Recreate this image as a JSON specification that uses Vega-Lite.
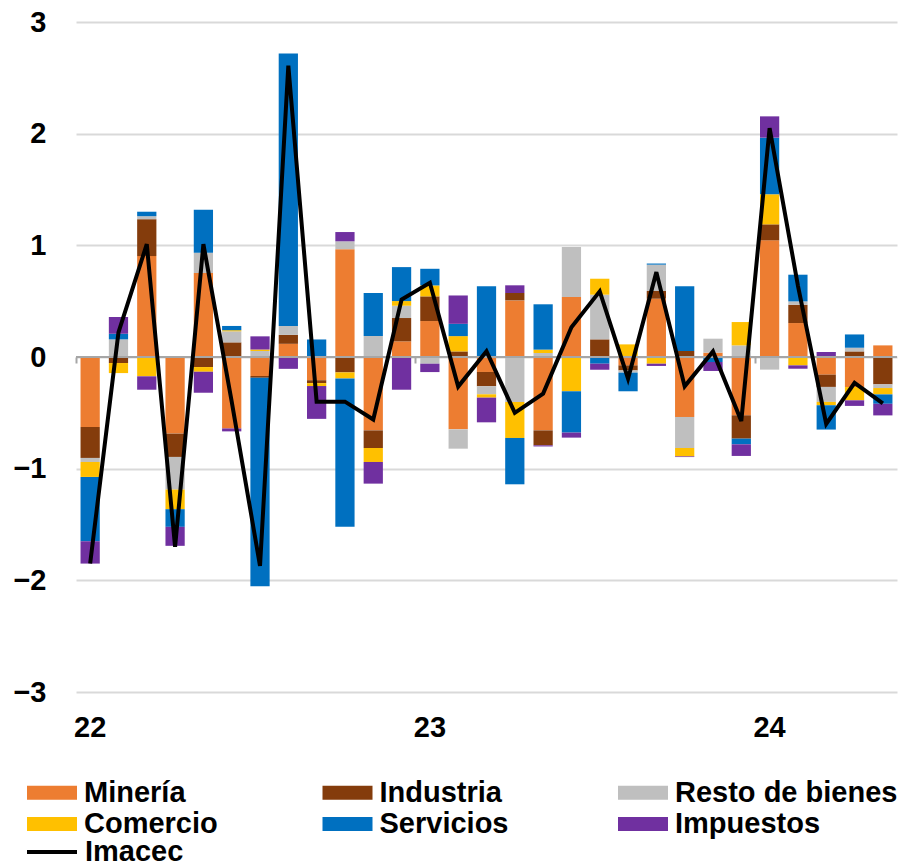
{
  "$schema": "https://vega.github.io/schema/vega-lite/v6.json",
  "width": 821,
  "height": 670,
  "autosize": {"type": "none"},
  "padding": {"left": 76, "top": 22, "right": 10, "bottom": 171},
  "background": "white",
  "config": {"view": {"stroke": null}, "font": "Liberation Sans"},
  "resolve": {"scale": {"x": "shared"}, "axis": {"x": "independent"}},
  "datasets": {
    "bars": [
      {"mes": "2022-01", "serie": "Minería", "v": -0.627},
      {"mes": "2022-01", "serie": "Industria", "v": -0.277},
      {"mes": "2022-01", "serie": "Resto de bienes", "v": -0.036},
      {"mes": "2022-01", "serie": "Comercio", "v": -0.134},
      {"mes": "2022-01", "serie": "Servicios", "v": -0.576},
      {"mes": "2022-01", "serie": "Impuestos", "v": -0.2},
      {"mes": "2022-02", "serie": "Industria", "v": -0.054},
      {"mes": "2022-02", "serie": "Resto de bienes", "v": 0.158},
      {"mes": "2022-02", "serie": "Comercio", "v": -0.09},
      {"mes": "2022-02", "serie": "Servicios", "v": 0.05},
      {"mes": "2022-02", "serie": "Impuestos", "v": 0.15},
      {"mes": "2022-03", "serie": "Minería", "v": 0.904},
      {"mes": "2022-03", "serie": "Industria", "v": 0.33},
      {"mes": "2022-03", "serie": "Resto de bienes", "v": 0.027},
      {"mes": "2022-03", "serie": "Comercio", "v": -0.173},
      {"mes": "2022-03", "serie": "Servicios", "v": 0.04},
      {"mes": "2022-03", "serie": "Impuestos", "v": -0.12},
      {"mes": "2022-04", "serie": "Minería", "v": -0.686},
      {"mes": "2022-04", "serie": "Industria", "v": -0.209},
      {"mes": "2022-04", "serie": "Resto de bienes", "v": -0.292},
      {"mes": "2022-04", "serie": "Comercio", "v": -0.176},
      {"mes": "2022-04", "serie": "Servicios", "v": -0.158},
      {"mes": "2022-04", "serie": "Impuestos", "v": -0.17},
      {"mes": "2022-05", "serie": "Minería", "v": 0.752},
      {"mes": "2022-05", "serie": "Industria", "v": -0.09},
      {"mes": "2022-05", "serie": "Resto de bienes", "v": 0.182},
      {"mes": "2022-05", "serie": "Comercio", "v": -0.042},
      {"mes": "2022-05", "serie": "Servicios", "v": 0.385},
      {"mes": "2022-05", "serie": "Impuestos", "v": -0.188},
      {"mes": "2022-06", "serie": "Minería", "v": -0.64},
      {"mes": "2022-06", "serie": "Industria", "v": 0.131},
      {"mes": "2022-06", "serie": "Resto de bienes", "v": 0.099},
      {"mes": "2022-06", "serie": "Comercio", "v": 0.01},
      {"mes": "2022-06", "serie": "Servicios", "v": 0.038},
      {"mes": "2022-06", "serie": "Impuestos", "v": -0.026},
      {"mes": "2022-07", "serie": "Minería", "v": -0.17},
      {"mes": "2022-07", "serie": "Industria", "v": -0.016},
      {"mes": "2022-07", "serie": "Resto de bienes", "v": 0.054},
      {"mes": "2022-07", "serie": "Comercio", "v": 0.013},
      {"mes": "2022-07", "serie": "Servicios", "v": -1.866},
      {"mes": "2022-07", "serie": "Impuestos", "v": 0.118},
      {"mes": "2022-08", "serie": "Minería", "v": 0.118},
      {"mes": "2022-08", "serie": "Industria", "v": 0.08},
      {"mes": "2022-08", "serie": "Resto de bienes", "v": 0.08},
      {"mes": "2022-08", "serie": "Servicios", "v": 2.44},
      {"mes": "2022-08", "serie": "Impuestos", "v": -0.106},
      {"mes": "2022-09", "serie": "Minería", "v": -0.208},
      {"mes": "2022-09", "serie": "Industria", "v": -0.026},
      {"mes": "2022-09", "serie": "Comercio", "v": -0.026},
      {"mes": "2022-09", "serie": "Servicios", "v": 0.157},
      {"mes": "2022-09", "serie": "Impuestos", "v": -0.294},
      {"mes": "2022-10", "serie": "Minería", "v": 0.966},
      {"mes": "2022-10", "serie": "Industria", "v": -0.138},
      {"mes": "2022-10", "serie": "Resto de bienes", "v": 0.07},
      {"mes": "2022-10", "serie": "Comercio", "v": -0.054},
      {"mes": "2022-10", "serie": "Servicios", "v": -1.328},
      {"mes": "2022-10", "serie": "Impuestos", "v": 0.083},
      {"mes": "2022-11", "serie": "Minería", "v": -0.657},
      {"mes": "2022-11", "serie": "Industria", "v": -0.158},
      {"mes": "2022-11", "serie": "Resto de bienes", "v": 0.188},
      {"mes": "2022-11", "serie": "Comercio", "v": -0.125},
      {"mes": "2022-11", "serie": "Servicios", "v": 0.385},
      {"mes": "2022-11", "serie": "Impuestos", "v": -0.194},
      {"mes": "2022-12", "serie": "Minería", "v": 0.14},
      {"mes": "2022-12", "serie": "Industria", "v": 0.209},
      {"mes": "2022-12", "serie": "Resto de bienes", "v": 0.11},
      {"mes": "2022-12", "serie": "Comercio", "v": 0.042},
      {"mes": "2022-12", "serie": "Servicios", "v": 0.304},
      {"mes": "2022-12", "serie": "Impuestos", "v": -0.293},
      {"mes": "2023-01", "serie": "Minería", "v": 0.322},
      {"mes": "2023-01", "serie": "Industria", "v": 0.221},
      {"mes": "2023-01", "serie": "Resto de bienes", "v": -0.06},
      {"mes": "2023-01", "serie": "Comercio", "v": 0.098},
      {"mes": "2023-01", "serie": "Servicios", "v": 0.149},
      {"mes": "2023-01", "serie": "Impuestos", "v": -0.075},
      {"mes": "2023-02", "serie": "Minería", "v": -0.648},
      {"mes": "2023-02", "serie": "Industria", "v": 0.05},
      {"mes": "2023-02", "serie": "Resto de bienes", "v": -0.173},
      {"mes": "2023-02", "serie": "Comercio", "v": 0.137},
      {"mes": "2023-02", "serie": "Servicios", "v": 0.11},
      {"mes": "2023-02", "serie": "Impuestos", "v": 0.254},
      {"mes": "2023-03", "serie": "Minería", "v": -0.134},
      {"mes": "2023-03", "serie": "Industria", "v": -0.128},
      {"mes": "2023-03", "serie": "Resto de bienes", "v": -0.072},
      {"mes": "2023-03", "serie": "Comercio", "v": -0.03},
      {"mes": "2023-03", "serie": "Servicios", "v": 0.633},
      {"mes": "2023-03", "serie": "Impuestos", "v": -0.221},
      {"mes": "2023-04", "serie": "Minería", "v": 0.507},
      {"mes": "2023-04", "serie": "Industria", "v": 0.066},
      {"mes": "2023-04", "serie": "Resto de bienes", "v": -0.403},
      {"mes": "2023-04", "serie": "Comercio", "v": -0.322},
      {"mes": "2023-04", "serie": "Servicios", "v": -0.415},
      {"mes": "2023-04", "serie": "Impuestos", "v": 0.069},
      {"mes": "2023-05", "serie": "Minería", "v": -0.657},
      {"mes": "2023-05", "serie": "Industria", "v": -0.134},
      {"mes": "2023-05", "serie": "Resto de bienes", "v": 0.036},
      {"mes": "2023-05", "serie": "Comercio", "v": 0.03},
      {"mes": "2023-05", "serie": "Servicios", "v": 0.406},
      {"mes": "2023-05", "serie": "Impuestos", "v": -0.01},
      {"mes": "2023-06", "serie": "Minería", "v": 0.537},
      {"mes": "2023-06", "serie": "Resto de bienes", "v": 0.448},
      {"mes": "2023-06", "serie": "Comercio", "v": -0.307},
      {"mes": "2023-06", "serie": "Servicios", "v": -0.37},
      {"mes": "2023-06", "serie": "Impuestos", "v": -0.045},
      {"mes": "2023-07", "serie": "Industria", "v": 0.158},
      {"mes": "2023-07", "serie": "Resto de bienes", "v": 0.4},
      {"mes": "2023-07", "serie": "Comercio", "v": 0.143},
      {"mes": "2023-07", "serie": "Servicios", "v": -0.06},
      {"mes": "2023-07", "serie": "Impuestos", "v": -0.054},
      {"mes": "2023-08", "serie": "Minería", "v": -0.075},
      {"mes": "2023-08", "serie": "Industria", "v": -0.045},
      {"mes": "2023-08", "serie": "Resto de bienes", "v": -0.02},
      {"mes": "2023-08", "serie": "Comercio", "v": 0.113},
      {"mes": "2023-08", "serie": "Servicios", "v": -0.167},
      {"mes": "2023-09", "serie": "Minería", "v": 0.522},
      {"mes": "2023-09", "serie": "Industria", "v": 0.069},
      {"mes": "2023-09", "serie": "Resto de bienes", "v": 0.236},
      {"mes": "2023-09", "serie": "Comercio", "v": -0.06},
      {"mes": "2023-09", "serie": "Servicios", "v": 0.01},
      {"mes": "2023-09", "serie": "Impuestos", "v": -0.02},
      {"mes": "2023-10", "serie": "Minería", "v": -0.537},
      {"mes": "2023-10", "serie": "Industria", "v": 0.054},
      {"mes": "2023-10", "serie": "Resto de bienes", "v": -0.278},
      {"mes": "2023-10", "serie": "Comercio", "v": -0.075},
      {"mes": "2023-10", "serie": "Servicios", "v": 0.579},
      {"mes": "2023-10", "serie": "Impuestos", "v": -0.006},
      {"mes": "2023-11", "serie": "Minería", "v": 0.039},
      {"mes": "2023-11", "serie": "Resto de bienes", "v": 0.125},
      {"mes": "2023-11", "serie": "Servicios", "v": -0.045},
      {"mes": "2023-11", "serie": "Impuestos", "v": -0.08},
      {"mes": "2023-12", "serie": "Minería", "v": -0.522},
      {"mes": "2023-12", "serie": "Industria", "v": -0.209},
      {"mes": "2023-12", "serie": "Resto de bienes", "v": 0.104},
      {"mes": "2023-12", "serie": "Comercio", "v": 0.209},
      {"mes": "2023-12", "serie": "Servicios", "v": -0.051},
      {"mes": "2023-12", "serie": "Impuestos", "v": -0.104},
      {"mes": "2024-01", "serie": "Minería", "v": 1.045},
      {"mes": "2024-01", "serie": "Industria", "v": 0.143},
      {"mes": "2024-01", "serie": "Resto de bienes", "v": -0.113},
      {"mes": "2024-01", "serie": "Comercio", "v": 0.269},
      {"mes": "2024-01", "serie": "Servicios", "v": 0.507},
      {"mes": "2024-01", "serie": "Impuestos", "v": 0.191},
      {"mes": "2024-02", "serie": "Minería", "v": 0.304},
      {"mes": "2024-02", "serie": "Industria", "v": 0.164},
      {"mes": "2024-02", "serie": "Resto de bienes", "v": 0.03},
      {"mes": "2024-02", "serie": "Comercio", "v": -0.075},
      {"mes": "2024-02", "serie": "Servicios", "v": 0.239},
      {"mes": "2024-02", "serie": "Impuestos", "v": -0.03},
      {"mes": "2024-03", "serie": "Minería", "v": -0.158},
      {"mes": "2024-03", "serie": "Industria", "v": -0.11},
      {"mes": "2024-03", "serie": "Resto de bienes", "v": -0.134},
      {"mes": "2024-03", "serie": "Comercio", "v": -0.03},
      {"mes": "2024-03", "serie": "Servicios", "v": -0.218},
      {"mes": "2024-03", "serie": "Impuestos", "v": 0.045},
      {"mes": "2024-04", "serie": "Minería", "v": -0.269},
      {"mes": "2024-04", "serie": "Industria", "v": 0.05},
      {"mes": "2024-04", "serie": "Resto de bienes", "v": 0.033},
      {"mes": "2024-04", "serie": "Comercio", "v": -0.119},
      {"mes": "2024-04", "serie": "Servicios", "v": 0.119},
      {"mes": "2024-04", "serie": "Impuestos", "v": -0.05},
      {"mes": "2024-05", "serie": "Minería", "v": 0.104},
      {"mes": "2024-05", "serie": "Industria", "v": -0.245},
      {"mes": "2024-05", "serie": "Resto de bienes", "v": -0.033},
      {"mes": "2024-05", "serie": "Comercio", "v": -0.057},
      {"mes": "2024-05", "serie": "Servicios", "v": -0.084},
      {"mes": "2024-05", "serie": "Impuestos", "v": -0.104}
    ],
    "imacec": [
      {"mes": "2022-01", "v": -1.85},
      {"mes": "2022-02", "v": 0.22},
      {"mes": "2022-03", "v": 1.01},
      {"mes": "2022-04", "v": -1.7},
      {"mes": "2022-05", "v": 1.01},
      {"mes": "2022-06", "v": -0.4},
      {"mes": "2022-07", "v": -1.87},
      {"mes": "2022-08", "v": 2.61},
      {"mes": "2022-09", "v": -0.4},
      {"mes": "2022-10", "v": -0.4},
      {"mes": "2022-11", "v": -0.56},
      {"mes": "2022-12", "v": 0.515},
      {"mes": "2023-01", "v": 0.665},
      {"mes": "2023-02", "v": -0.265},
      {"mes": "2023-03", "v": 0.052},
      {"mes": "2023-04", "v": -0.5},
      {"mes": "2023-05", "v": -0.328},
      {"mes": "2023-06", "v": 0.266},
      {"mes": "2023-07", "v": 0.588},
      {"mes": "2023-08", "v": -0.194},
      {"mes": "2023-09", "v": 0.76},
      {"mes": "2023-10", "v": -0.263},
      {"mes": "2023-11", "v": 0.05},
      {"mes": "2023-12", "v": -0.573},
      {"mes": "2024-01", "v": 2.05},
      {"mes": "2024-02", "v": 0.64},
      {"mes": "2024-03", "v": -0.6},
      {"mes": "2024-04", "v": -0.232},
      {"mes": "2024-05", "v": -0.415}
    ]
  },
  "layer": [
    {
      "data": {"name": "bars"},
      "transform": [
        {"calculate": "indexof(['Minería', 'Industria', 'Resto de bienes', 'Comercio', 'Servicios', 'Impuestos'], datum.serie)", "as": "orden"}
      ],
      "mark": {"type": "bar"},
      "encoding": {
        "x": {
          "field": "mes",
          "type": "ordinal",
          "scale": {"paddingInner": 0.32, "paddingOuter": 0.16},
          "axis": {
            "title": null,
            "domain": false,
            "ticks": false,
            "labelAngle": 0,
            "labelExpr": "substring(datum.value, 5, 7) == '01' ? substring(datum.value, 2, 4) : ''",
            "labelFont": "Liberation Sans",
            "labelFontSize": 29,
            "labelFontWeight": "bold",
            "labelColor": "black",
            "labelPadding": 21
          }
        },
        "y": {
          "field": "v",
          "type": "quantitative",
          "stack": "zero",
          "scale": {"domain": [-3, 3], "nice": false},
          "axis": {
            "title": null,
            "domain": false,
            "ticks": false,
            "values": [-3, -2, -1, 0, 1, 2, 3],
            "format": "d",
            "grid": true,
            "gridColor": "#D9D9D9",
            "gridWidth": 2,
            "labelFont": "Liberation Sans",
            "labelFontSize": 29,
            "labelFontWeight": "bold",
            "labelColor": "black",
            "labelPadding": 30
          }
        },
        "order": {"field": "orden", "type": "quantitative", "sort": "ascending"},
        "color": {
          "field": "serie",
          "type": "nominal",
          "scale": {
            "domain": ["Minería", "Industria", "Resto de bienes", "Comercio", "Servicios", "Impuestos"],
            "range": ["#ED7D31", "#843C0C", "#BFBFBF", "#FFC000", "#0070C0", "#7030A0"]
          },
          "legend": {
            "title": null,
            "orient": "none",
            "legendX": -38.5,
            "legendY": 756,
            "direction": "horizontal",
            "columns": 3,
            "gridAlign": "all",
            "columnPadding": 15.5,
            "rowPadding": 1.5,
            "symbolType": "M-2,-0.56H2V0.56H-2Z",
            "symbolSize": 625,
            "symbolStrokeWidth": 0,
            "symbolOpacity": 1,
            "labelFont": "Liberation Sans",
            "labelFontSize": 29,
            "labelFontWeight": "bold",
            "labelColor": "black",
            "labelOffset": 17.5,
            "labelLimit": 400
          }
        }
      }
    },
    {
      "data": {"values": [{}]},
      "mark": {"type": "rule", "color": "#A6A6A6", "strokeWidth": 2},
      "encoding": {"y": {"datum": 0}}
    },
    {
      "data": {"name": "imacec"},
      "mark": {"type": "line", "strokeWidth": 4},
      "encoding": {
        "x": {
          "field": "mes",
          "type": "ordinal",
          "axis": {
            "title": null,
            "orient": "bottom",
            "offset": -335,
            "labels": false,
            "domain": false,
            "grid": false,
            "ticks": true,
            "values": ["2022-01", "2023-01", "2024-01"],
            "bandPosition": -0.235,
            "tickColor": "#A6A6A6",
            "tickWidth": 2,
            "tickSize": 6
          }
        },
        "y": {"field": "v", "type": "quantitative"},
        "stroke": {
          "datum": "Imacec",
          "type": "nominal",
          "scale": {"range": ["black"]},
          "legend": {
            "title": null,
            "orient": "none",
            "legendX": -51,
            "legendY": 803,
            "symbolType": "stroke",
            "symbolSize": 2500,
            "symbolStrokeWidth": 4,
            "labelFont": "Liberation Sans",
            "labelFontSize": 29,
            "labelFontWeight": "bold",
            "labelColor": "black",
            "labelOffset": 6,
            "labelLimit": 400
          }
        }
      }
    }
  ]
}
